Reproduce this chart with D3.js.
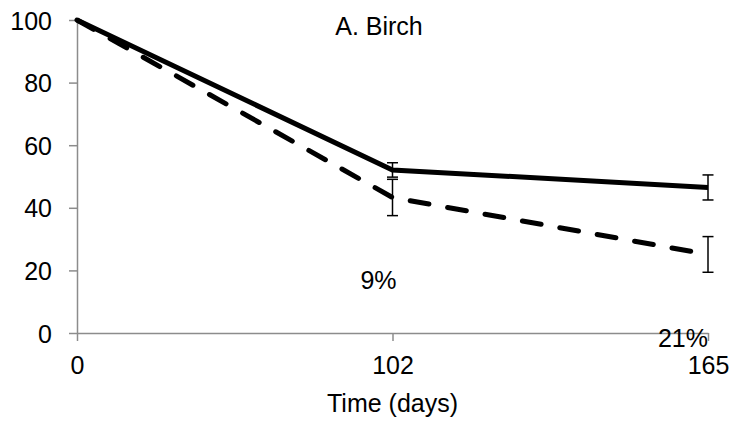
<!DOCTYPE html>
<html>
<head>
<meta charset="utf-8">
<script src="https://cdn.jsdelivr.net/npm/d3@7"></script>
<style>
	body { margin: 0; background: #fff; }
	text { font-family: "Liberation Sans", Arial, sans-serif; fill: #000; }
</style>
</head>
<body>
<div id="chart"></div>
<script>
( function () {

	// Data.
	var days = [ '0', '102', '165' ];
	var solidValues = [ 100, 52.1, 46.5 ];
	var solidErrors = [ 0, 2.3, 4.0 ];
	var dashedValues = [ 100, 43.3, 25.1 ];
	var dashedErrors = [ 0, 5.8, 5.7 ];
	var yTicks = [ 0, 20, 40, 60, 80, 100 ];
	var title = 'A. Birch';
	var xTitle = 'Time (days)';
	var notes = [ { day: '102', value: 14, text: '9%', dx: -14 }, { day: '165', value: -4.4, text: '21%', dx: -25 } ];

	var width = 734, height = 424;
	var margins = { top: 20, left: 77, bottom: 91, right: 26 };
	var fontSize = 25;

	var svg = d3.select( '#chart' ).append( 'svg' )
		.attr( 'width', width )
		.attr( 'height', height );

	var xScale = d3.scalePoint().domain( days ).range( [ margins.left, width - margins.right ] );
	var yScale = d3.scaleLinear().domain( [ 0, 100 ] ).range( [ height - margins.bottom, margins.top ] );

	// Axes, Excel style: grey lines, outside ticks.
	var yAxis = d3.axisLeft( yScale ).tickValues( yTicks ).tickSize( 8 ).tickSizeOuter( 0 ).tickPadding( 17 );
	var gy = svg.append( 'g' )
		.attr( 'transform', 'translate( ' + margins.left + ', 0 )' )
		.call( yAxis );

	var xAxis = d3.axisBottom( xScale ).tickSize( 8 ).tickSizeOuter( 0 ).tickPadding( 15 );
	var gx = svg.append( 'g' )
		.attr( 'transform', 'translate( 0, ' + yScale( 0 ) + ' )' )
		.call( xAxis );

	[ gx, gy ].forEach( function ( g ) {
		g.selectAll( 'path, line' ).attr( 'stroke', '#8c8c8c' ).attr( 'stroke-width', 1.5 );
		g.selectAll( 'text' ).attr( 'font-size', fontSize ).attr( 'fill', '#000' )
			.style( 'font-family', '"Liberation Sans", Arial, sans-serif' );
	} );
	gy.selectAll( 'text' ).attr( 'dy', '0.36em' );

	// Lines.
	var line = function ( values ) {
		return d3.line()
			.x( function ( d, i ) { return xScale( days[i] ); } )
			.y( function ( d ) { return yScale( d ); } )( values );
	};

	svg.append( 'path' )
		.attr( 'd', line( solidValues ) )
		.attr( 'fill', 'none' )
		.attr( 'stroke', '#000' )
		.attr( 'stroke-width', 5 );

	svg.append( 'path' )
		.attr( 'd', line( dashedValues ) )
		.attr( 'fill', 'none' )
		.attr( 'stroke', '#000' )
		.attr( 'stroke-width', 5 )
		.attr( 'stroke-linecap', 'round' )
		.attr( 'stroke-dasharray', '19 19' );

	// Error bars.
	var errorBars = function ( values, errors ) {
		var g = svg.append( 'g' ).attr( 'stroke', '#000' ).attr( 'stroke-width', 1.5 );
		values.forEach( function ( v, i ) {
			if ( !errors[i] ) { return; }
			var x = xScale( days[i] );
			var y0 = yScale( v - errors[i] ), y1 = yScale( v + errors[i] );
			g.append( 'line' ).attr( 'x1', x ).attr( 'x2', x ).attr( 'y1', y0 ).attr( 'y2', y1 );
			g.append( 'line' ).attr( 'x1', x - 5.5 ).attr( 'x2', x + 5.5 ).attr( 'y1', y0 ).attr( 'y2', y0 );
			g.append( 'line' ).attr( 'x1', x - 5.5 ).attr( 'x2', x + 5.5 ).attr( 'y1', y1 ).attr( 'y2', y1 );
		} );
	};
	errorBars( solidValues, solidErrors );
	errorBars( dashedValues, dashedErrors );

	// Text.
	svg.append( 'text' )
		.attr( 'x', 379 ).attr( 'y', 35 )
		.attr( 'text-anchor', 'middle' )
		.attr( 'font-size', fontSize )
		.text( title );

	svg.append( 'text' )
		.attr( 'x', xScale( days[1] ) ).attr( 'y', 412 )
		.attr( 'text-anchor', 'middle' )
		.attr( 'font-size', fontSize )
		.text( xTitle );

	notes.forEach( function ( n ) {
		svg.append( 'text' )
			.attr( 'x', xScale( n.day ) + n.dx ).attr( 'y', yScale( n.value ) )
			.attr( 'text-anchor', 'middle' )
			.attr( 'font-size', fontSize )
			.text( n.text );
	} );

} )();
</script>
</body>
</html>
